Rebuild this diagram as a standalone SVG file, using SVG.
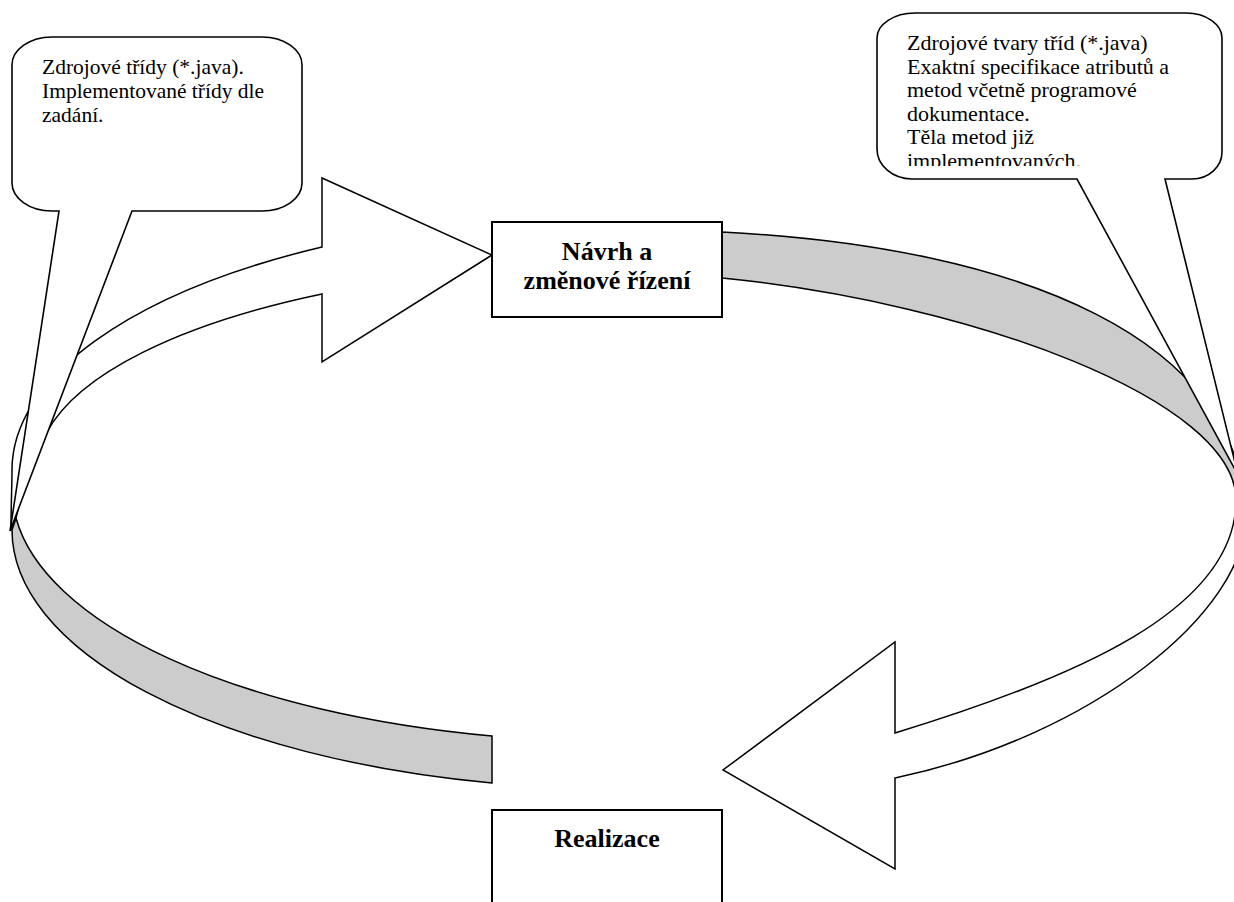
<svg xmlns="http://www.w3.org/2000/svg" width="1234" height="902" viewBox="0 0 1234 902">
<style>
.band{fill:#cccccc;stroke:#000;stroke-width:1.5;stroke-linejoin:miter}
.arrow{fill:#ffffff;stroke:#000;stroke-width:1.5;stroke-linejoin:miter}
.box{fill:#ffffff;stroke:#000;stroke-width:2}
.callout{fill:#ffffff;stroke:#000;stroke-width:1.6}
.ct{font-family:"Liberation Serif","Times New Roman",serif;font-size:21.5px;fill:#000}
.ct2{font-family:"Liberation Serif","Times New Roman",serif;font-size:22px;fill:#000}
.bt{font-family:"Liberation Serif","Times New Roman",serif;font-size:26px;font-weight:bold;fill:#000;text-anchor:middle}
</style>
<defs>
<clipPath id="clipR"><rect x="877" y="13" width="345" height="153"/></clipPath>
</defs>
<rect width="1234" height="902" fill="#ffffff"/>
<g id="connectors">
<path class="band" d="M 12,530 A 610 259 0 0 0 492,783 L 492,736 A 609.5 252 0 0 1 16,518 Z"/>
<path class="arrow" d="M 11,530 C 11,505 12,485 12,470 A 610 256 0 0 1 322,247 L 322,178 L 492,255 L 322,362 L 322,294 A 585 205 0 0 0 47,432 L 28,470 L 16,518 Z"/>
<path class="band" d="M 722,232 C 1022,247 1245,340 1245,520 L 1236,500 C 1236,400 972,303 722,278 Z"/>
<path class="arrow" d="M 1236,500 C 1236,610 1075,678 895,733 L 895,642 L 723,770 L 895,869 L 895,778 C 1095,736 1245,610 1245,520 Z"/>
</g>
<g id="node-navrh">
<rect class="box" x="492" y="222" width="230" height="95"/>
<text class="bt" x="607" y="260">Návrh a</text>
<text class="bt" x="607" y="289">změnové řízení</text>
</g>
<g id="node-realizace">
<rect class="box" x="492" y="810" width="230" height="110"/>
<text class="bt" x="607" y="847">Realizace</text>
</g>
<g id="callout-left">
<path class="callout" d="M 52,37 H 262 A 40 28 0 0 1 302,65 V 183 A 40 28 0 0 1 262,211 H 132 L 10,531 L 59,211 H 52 A 40 28 0 0 1 12,183 V 65 A 40 28 0 0 1 52,37 Z"/>
<text class="ct" x="42" y="74">Zdrojové třídy (*.java).</text>
<text class="ct" x="42" y="98">Implementované třídy dle</text>
<text class="ct" x="42" y="122">zadání.</text>
</g>
<g id="callout-right">
<path class="callout" d="M 915,13 H 1186 A 36 25 0 0 1 1222,38 V 152 A 30 27 0 0 1 1192,179 H 1165 L 1238,475 L 1077,179 H 912 A 35 30 0 0 1 877,149 V 38 A 38 25 0 0 1 915,13 Z"/>
<g clip-path="url(#clipR)">
<text class="ct2" x="907" y="50">Zdrojové tvary tříd (*.java)</text>
<text class="ct2" x="907" y="73.5">Exaktní specifikace atributů a</text>
<text class="ct2" x="907" y="97">metod včetně programové</text>
<text class="ct2" x="907" y="120.5">dokumentace.</text>
<text class="ct2" x="907" y="144">Těla metod již</text>
<text class="ct2" x="907" y="167.5">implementovaných.</text>
</g>
</g>
</svg>
